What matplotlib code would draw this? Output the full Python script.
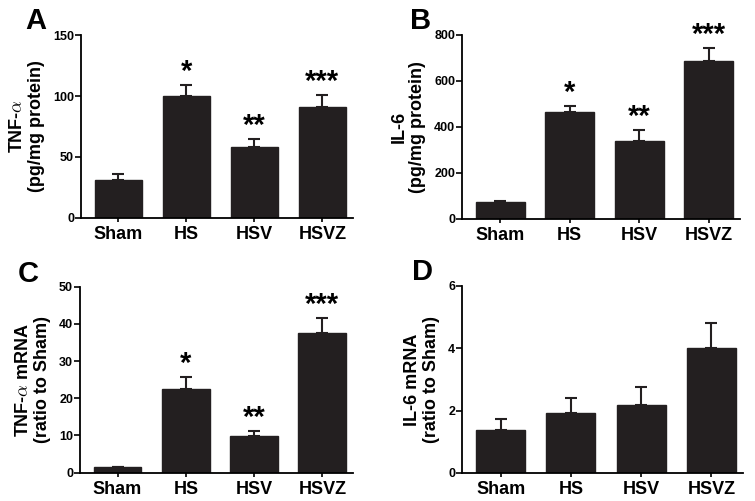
import numpy as np
import matplotlib.pyplot as plt

plt.rcParams["font.family"] = ["Liberation Sans", "DejaVu Sans"]
plt.rcParams["font.weight"] = "bold"
plt.rcParams["mathtext.fontset"] = "cm"

groups = ["Sham", "HS", "HSV", "HSVZ"]

tnf_protein = [31, 100, 58.5, 91]
tnf_protein_err = [5, 9, 6, 9.5]
tnf_protein_sig = ["", "*", "**", "***"]

il6_protein = [72, 464, 337, 687]
il6_protein_err = [6, 26, 49, 57]
il6_protein_sig = ["", "*", "**", "***"]

tnf_mrna = [1.4, 22.4, 9.9, 37.6]
tnf_mrna_err = [0.2, 3.4, 1.4, 3.9]
tnf_mrna_sig = ["", "*", "**", "***"]

il6_mrna = [1.38, 1.91, 2.18, 4.02]
il6_mrna_err = [0.34, 0.51, 0.57, 0.80]
il6_mrna_sig = ["", "", "", ""]

BAR = "#231f20"

fig = plt.figure(figsize=(7.55, 5.01), dpi=100)
fig.patch.set_facecolor("white")

panels = [
    ("A", (-0.167, 1.033), [0.1073, 0.5649, 0.3602, 0.3652], tnf_protein, tnf_protein_err,
     tnf_protein_sig, "TNF-$\\alpha$\n(pg/mg protein)", 150, [0, 50, 100, 150]),
    ("B", (-0.15, 1.03), [0.6119, 0.5629, 0.3682, 0.3678], il6_protein, il6_protein_err,
     il6_protein_sig, "IL-6\n(pg/mg protein)", 800, [0, 200, 400, 600, 800]),
    ("C", (-0.19, 1.025), [0.1060, 0.0565, 0.3616, 0.3713], tnf_mrna, tnf_mrna_err,
     tnf_mrna_sig, "TNF-$\\alpha$ mRNA\n(ratio to Sham)", 50, [0, 10, 20, 30, 40, 50]),
    ("D", (-0.14, 1.03), [0.6119, 0.0559, 0.3722, 0.3733], il6_mrna, il6_mrna_err,
     il6_mrna_sig, "IL-6 mRNA\n(ratio to Sham)", 6, [0, 2, 4, 6]),
]

x = np.arange(len(groups))
for letter, lpos, rect, vals, errs, sigs, ylab, ymax, yticks in panels:
    ax = fig.add_axes(rect)
    ax.bar(x, vals, width=0.70, color=BAR, edgecolor=BAR, zorder=2)
    ax.errorbar(x, vals, yerr=[np.zeros(len(vals)), errs], fmt="none",
                ecolor=BAR, elinewidth=1.5, capsize=4.3, capthick=1.5, zorder=1)
    for xi, v, e, s in zip(x, vals, errs, sigs):
        if s:
            ax.text(xi, v + e - ymax * 0.005, s, ha="center", va="bottom",
                    fontsize=21, fontweight="bold", color="black")
    ax.set_xlim(-0.55, 3.45)
    ax.set_ylim(0, ymax)
    ax.set_yticks(yticks)
    ax.set_xticks(x)
    ax.set_xticklabels(groups, fontsize=13, fontweight="bold")
    ax.tick_params(axis="y", labelsize=9, length=4, width=1.2, pad=1)
    ax.tick_params(axis="x", length=3, width=1.2, pad=3)
    for lab in ax.get_yticklabels():
        lab.set_fontweight("bold")
    for sp in ["top", "right"]:
        ax.spines[sp].set_visible(False)
    for sp in ["left", "bottom"]:
        ax.spines[sp].set_linewidth(1.3)
    ax.set_ylabel(ylab, fontsize=13, fontweight="bold", linespacing=1.1, labelpad=6)
    ax.text(lpos[0], lpos[1], letter, transform=ax.transAxes, fontsize=21,
            fontweight="bold", ha="center", va="baseline")

fig.savefig("out.png", dpi=100, facecolor="white")
